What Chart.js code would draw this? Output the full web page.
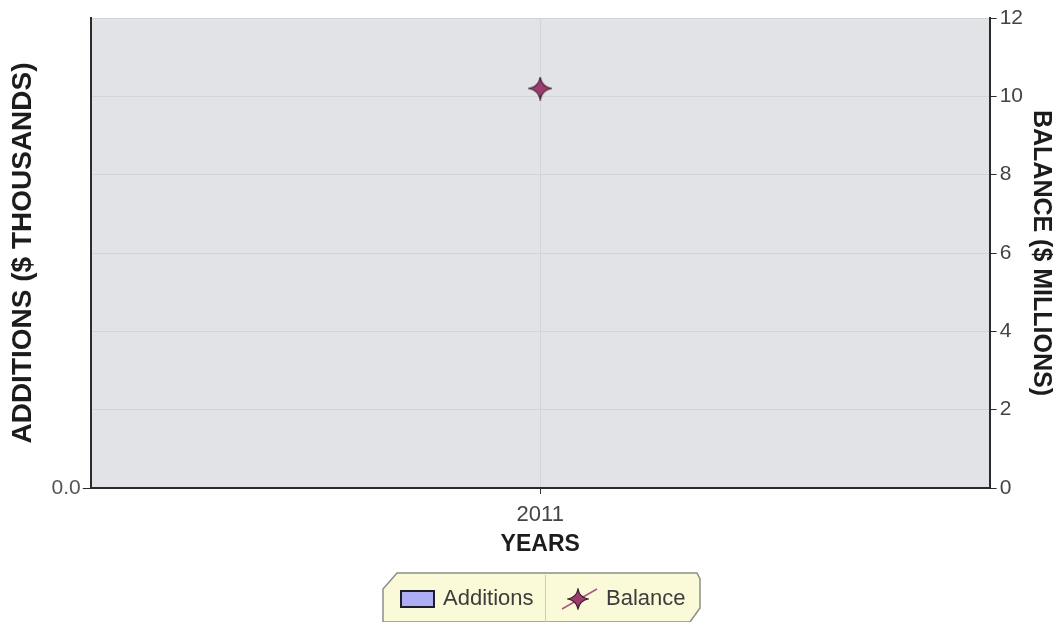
<!DOCTYPE html>
<html>
<head>
<meta charset="utf-8">
<script src="https://cdn.jsdelivr.net/npm/chart.js@4.4.1/dist/chart.umd.min.js"></script>
<style>
  html, body { margin: 0; padding: 0; background: #ffffff; }
  #wrap { width: 1058px; height: 622px; position: relative; }
</style>
</head>
<body>
<div id="wrap"><canvas id="chart"></canvas></div>
<script>
// data
const years = ['2011'];
const additions = [0];
const balance = [10.2];
const leftTicks = [0];
const rightTicks = [0, 2, 4, 6, 8, 10, 12];

const font = "'Liberation Sans', Arial, sans-serif";
const starFill = '#9c3d6e';
const starEdge = '#3a1a2a';
const barFill = '#aeaef5';

// four point star used for the Balance marker
function makeStar(size) {
    const c = document.createElement('canvas');
    c.width = size; c.height = size;
    const g = c.getContext('2d');
    const m = size / 2, r = size / 2 - 1, k = r * 0.32;
    g.beginPath();
    g.moveTo(m, m - r);
    g.quadraticCurveTo(m + k * 0.5, m - k * 0.5, m + r, m);
    g.quadraticCurveTo(m + k * 0.5, m + k * 0.5, m, m + r);
    g.quadraticCurveTo(m - k * 0.5, m + k * 0.5, m - r, m);
    g.quadraticCurveTo(m - k * 0.5, m - k * 0.5, m, m - r);
    g.closePath();
    g.fillStyle = starFill;
    g.fill();
    g.lineWidth = 1.2;
    g.strokeStyle = starEdge;
    g.stroke();
    return c;
}
const star = makeStar(24);
const smallStar = makeStar(22);

// plot background
const plotBg = {
    id: 'plotBg',
    beforeDraw(chart) {
        const { ctx, chartArea: a } = chart;
        ctx.save();
        ctx.fillStyle = '#e1e3e6';
        ctx.fillRect(a.left, a.top, a.right - a.left, a.bottom - a.top);
        ctx.strokeStyle = '#b9bcc0';
        ctx.lineWidth = 1;
        ctx.beginPath();
        ctx.moveTo(a.left, a.top + 0.5);
        ctx.lineTo(a.right, a.top + 0.5);
        ctx.stroke();
        ctx.restore();
    }
};

// yellow legend strip under the chart
const legendBox = {
    id: 'legendBox',
    afterDraw(chart) {
        const ctx = chart.ctx;
        const x0 = 383, x1 = 700, y0 = 573, y1 = 622, mid = 545;
        ctx.save();
        ctx.beginPath();
        ctx.moveTo(x0 + 14, y0);
        ctx.lineTo(x1 - 3, y0);
        ctx.lineTo(x1, y0 + 6);
        ctx.lineTo(x1, y1 - 14);
        ctx.lineTo(x1 - 10, y1);
        ctx.lineTo(x0, y1);
        ctx.lineTo(x0, y0 + 16);
        ctx.closePath();
        ctx.fillStyle = '#fbfad8';
        ctx.fill();
        ctx.strokeStyle = '#8e8e86';
        ctx.lineWidth = 1.5;
        ctx.stroke();
        ctx.strokeStyle = '#cfcdb0';
        ctx.lineWidth = 1;
        ctx.beginPath();
        ctx.moveTo(mid + 0.5, y0 + 2);
        ctx.lineTo(mid + 0.5, y1);
        ctx.stroke();

        // Additions swatch
        ctx.fillStyle = barFill;
        ctx.fillRect(401, 591, 33, 16);
        ctx.strokeStyle = '#1e1e2a';
        ctx.lineWidth = 2;
        ctx.strokeRect(401, 591, 33, 16);

        // Balance swatch
        ctx.strokeStyle = '#b0557f';
        ctx.lineWidth = 1.5;
        ctx.beginPath();
        ctx.moveTo(562, 609);
        ctx.lineTo(597, 589);
        ctx.stroke();
        ctx.drawImage(smallStar, 567, 588);

        ctx.fillStyle = '#3c3c3c';
        ctx.font = '22px ' + font;
        ctx.textBaseline = 'middle';
        ctx.fillText('Additions', 443, 599);
        ctx.fillText('Balance', 606, 599);
        ctx.restore();
    }
};

new Chart(document.getElementById('chart'), {
    type: 'bar',
    data: {
        labels: years,
        datasets: [
            {
                label: 'Additions',
                data: additions,
                backgroundColor: barFill,
                borderColor: '#1e1e2a',
                borderWidth: 1,
                yAxisID: 'yLeft',
                order: 2
            },
            {
                type: 'line',
                label: 'Balance',
                data: balance,
                yAxisID: 'yRight',
                pointStyle: star,
                pointRadius: 12,
                showLine: false,
                borderColor: starFill,
                backgroundColor: starFill,
                order: 1
            }
        ]
    },
    options: {
        responsive: true,
        maintainAspectRatio: false,
        animation: false,
        layout: { padding: { top: 18, left: 6, right: 0, bottom: 64 } },
        plugins: {
            legend: { display: false },
            tooltip: { enabled: false }
        },
        scales: {
            x: {
                offset: true,
                grid: {
                    offset: false,
                    color: '#d2d4d8',
                    tickColor: '#333333',
                    tickLength: 6
                },
                border: { color: '#2b2b2b', width: 2 },
                ticks: { color: '#444444', font: { family: font, size: 22 }, padding: 8 },
                title: {
                    display: true,
                    text: 'YEARS',
                    color: '#1c1c1c',
                    font: { family: font, size: 23, weight: 'bold' },
                    padding: { top: -6, bottom: 0 }
                }
            },
            yLeft: {
                position: 'left',
                min: 0,
                max: 1,
                afterBuildTicks(scale) { scale.ticks = leftTicks.map(v => ({ value: v })); },
                grid: { drawOnChartArea: false, tickColor: '#2b2b2b', tickLength: 8 },
                border: { color: '#2b2b2b', width: 2 },
                ticks: {
                    color: '#555555',
                    font: { family: font, size: 21 },
                    padding: 2,
                    callback: v => Number(v).toFixed(1)
                },
                title: {
                    display: true,
                    text: 'ADDITIONS ($ THOUSANDS)',
                    color: '#1c1c1c',
                    font: { family: font, size: 28, weight: 'bold' },
                    padding: { top: 0, bottom: 10 }
                }
            },
            yRight: {
                position: 'right',
                min: 0,
                max: 12,
                afterBuildTicks(scale) { scale.ticks = rightTicks.map(v => ({ value: v })); },
                grid: { color: '#d2d4d8', tickColor: '#2b2b2b', tickLength: 7 },
                border: { color: '#2b2b2b', width: 2 },
                ticks: { color: '#444444', font: { family: font, size: 21 }, padding: 3 },
                title: {
                    display: true,
                    text: 'BALANCE ($ MILLIONS)',
                    color: '#1c1c1c',
                    font: { family: font, size: 25, weight: 'bold' },
                    padding: { top: 2, bottom: 0 }
                }
            }
        }
    },
    plugins: [plotBg, legendBox]
});
</script>
</body>
</html>
